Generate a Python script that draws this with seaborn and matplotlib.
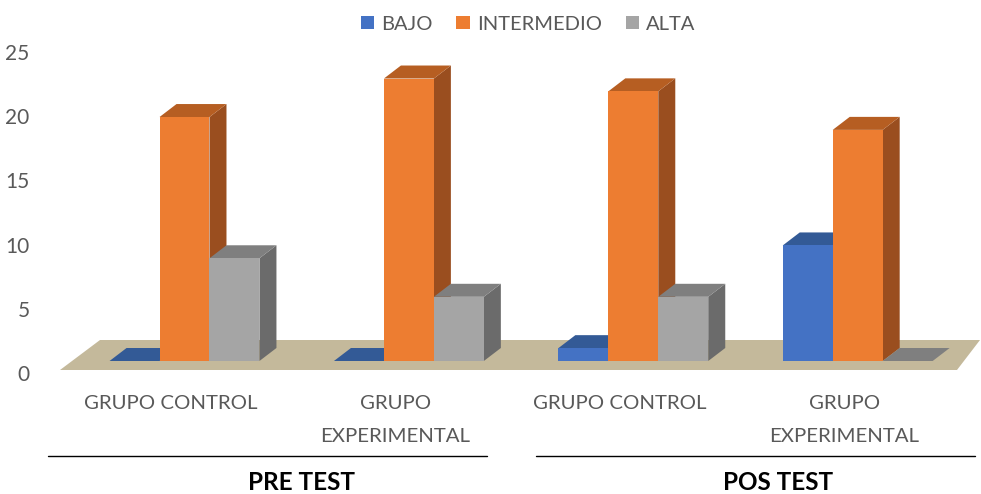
import numpy as np
import pandas as pd
import matplotlib
matplotlib.use("Agg")
import matplotlib.pyplot as plt
from matplotlib.patches import Polygon, Patch
import seaborn as sns

# ---- data ----
grupos = ["PRE-CONTROL", "PRE-EXPERIMENTAL", "POS-CONTROL", "POS-EXPERIMENTAL"]
tick_labels = ["GRUPO CONTROL", "GRUPO\nEXPERIMENTAL", "GRUPO CONTROL", "GRUPO\nEXPERIMENTAL"]
niveles = ["BAJO", "INTERMEDIO", "ALTA"]
bajo = [0, 0, 1, 9]
intermedio = [19, 22, 21, 18]
alta = [8, 5, 5, 0]
fases = ["PRE TEST", "POS TEST"]
y_ticks = [0, 5, 10, 15, 20, 25]

front_cols = ["#4472C4", "#ED7D31", "#A5A5A5"]
top_cols = ["#335A96", "#B65E22", "#7F7F7F"]
side_cols = ["#2B4C80", "#9A4E1F", "#6B6B6B"]

df = pd.DataFrame({
    "grupo": np.repeat(grupos, 3),
    "nivel": niveles * 4,
    "valor": [v for trio in zip(bajo, intermedio, alta) for v in trio],
})

sns.set_theme(style="white")
plt.rcParams["font.family"] = ["Lato", "DejaVu Sans"]
txt = "#595959"

W, H = 981, 494
fig = plt.figure(figsize=(W / 100, H / 100), dpi=100)
ax_l, ax_r, ax_t, ax_b = 60, 980, 30, 380
ax = fig.add_axes([ax_l / W, (H - ax_b) / H, (ax_r - ax_l) / W, (ax_b - ax_t) / H])

sns.barplot(data=df, x="grupo", y="valor", hue="nivel", order=grupos,
            hue_order=niveles, palette=front_cols, width=0.668,
            saturation=1, legend=False, ax=ax, linewidth=0)
bar_patches = list(ax.patches)  # hue order: BAJO x4, INTERMEDIO x4, ALTA x4

px_x = 224.4
px_y = 12.84
x0_px = 184.5
base_px = 361
ax.set_xlim((ax_l - x0_px) / px_x, (ax_r - x0_px) / px_x)
ax.set_ylim((base_px - ax_b) / px_y, (base_px - ax_t) / px_y)

dx = 17 / px_x
dy = 13 / px_y

fy0 = (base_px - 370) / px_y
fy1 = (base_px - 340) / px_y
floor = Polygon([((60 - x0_px) / px_x, fy0), ((957 - x0_px) / px_x, fy0),
                 ((980 - x0_px) / px_x, fy1), ((100 - x0_px) / px_x, fy1)],
                closed=True, facecolor="#C4B99B", edgecolor="none", zorder=1)
ax.add_patch(floor)

info = [(b, idx // 4) for idx, b in enumerate(bar_patches)]
info.sort(key=lambda t: t[0].get_x())
for i, (b, k) in enumerate(info):
    x, w, h = b.get_x(), b.get_width(), b.get_height()
    z = 3 + i * 0.1
    side = Polygon([(x + w, 0), (x + w + dx, dy), (x + w + dx, h + dy), (x + w, h)],
                   closed=True, facecolor=side_cols[k], edgecolor="none", zorder=z)
    top = Polygon([(x, h), (x + w, h), (x + w + dx, h + dy), (x + dx, h + dy)],
                  closed=True, facecolor=top_cols[k], edgecolor="none", zorder=z + 0.01)
    ax.add_patch(side)
    ax.add_patch(top)
    b.set_zorder(z + 0.02)

ax.set_yticks([t - 0.93 for t in y_ticks])
ax.set_yticklabels([str(t) for t in y_ticks], color=txt, fontsize=15)
ax.tick_params(axis="y", length=0, pad=22)
ax.set_xticks([i - 0.06 for i in range(4)])
ax.set_xticklabels(tick_labels, color=txt, fontsize=14.7, linespacing=2.15)
ax.tick_params(axis="x", length=0, pad=11)
ax.set_xlabel("")
ax.set_ylabel("")
for s in ax.spines.values():
    s.set_visible(False)

for (xa, xb), xc, f in zip([(48, 487), (536, 975)], [301, 778], fases):
    fig.add_artist(plt.Line2D([xa / W, xb / W], [(H - 456) / H] * 2,
                              color="black", lw=1, transform=fig.transFigure))
    fig.text(xc / W, (H - 482) / H, f, ha="center", va="center",
             fontsize=17.5, fontweight="bold", color="black")

handles = [Patch(facecolor=c, edgecolor="none") for c in front_cols]
fig.legend(handles, niveles, loc="center", bbox_to_anchor=(528 / W, 1 - 24 / H),
           ncol=3, frameon=False, fontsize=14.5, handlelength=0.65, handleheight=0.65,
           handletextpad=0.35, columnspacing=1.2, labelcolor=txt)

fig.savefig("out.png", dpi=100)
